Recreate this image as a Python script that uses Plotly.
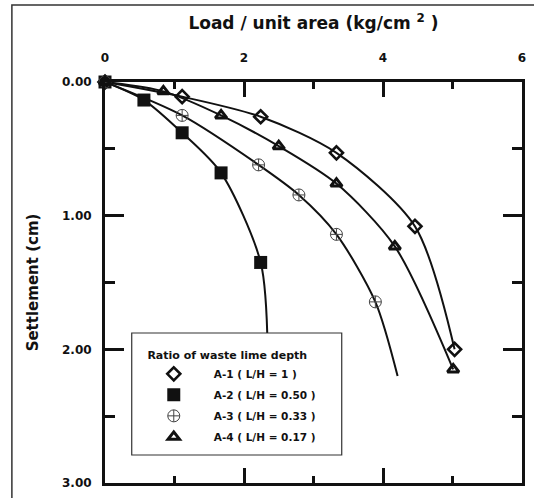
import plotly.graph_objects as go

# ---- data ----
a1_x = [0, 1.11, 2.24, 3.33, 4.46, 5.03]
a1_y = [0, 0.11, 0.26, 0.53, 1.08, 2.00]

a2_x = [0, 0.56, 1.11, 1.67, 2.24]
a2_y = [0, 0.135, 0.38, 0.68, 1.35]
a2_end_x = [2.34]
a2_end_y = [2.00]

a3_x = [0, 1.11, 2.21, 2.79, 3.33, 3.89]
a3_y = [0, 0.25, 0.62, 0.845, 1.14, 1.645]
a3_end_x = [4.21]
a3_end_y = [2.20]

a4_x = [0, 0.84, 1.67, 2.50, 3.33, 4.17, 5.01]
a4_y = [0, 0.07, 0.25, 0.48, 0.76, 1.23, 2.15]

names = ["A-1 ( L/H = 1 )", "A-2 ( L/H = 0.50 )", "A-3 ( L/H = 0.33 )", "A-4 ( L/H = 0.17 )"]
y_ticks = [0, 1, 2, 3]
x_ticks = [0, 2, 4, 6]

FONT = "'DejaVu Sans', Arial, sans-serif"
BLACK = "#111111"

fig = go.Figure()

series = [
    (a1_x, a1_y, [], [], dict(symbol="diamond-open", size=10, color=BLACK, line=dict(width=2.6, color=BLACK))),
    (a2_x, a2_y, a2_end_x, a2_end_y, dict(symbol="square", size=13, color=BLACK, line=dict(width=0))),
    (a3_x, a3_y, a3_end_x, a3_end_y, dict(symbol="circle-cross-open", size=12, color="#444444", line=dict(width=1))),
    (a4_x, a4_y, [], [], dict(symbol="triangle-up-open", size=10, color=BLACK, line=dict(width=3, color=BLACK))),
]

# curves (smooth lines, no legend)
for xs, ys, ex, ey, mk in series:
    fig.add_trace(go.Scatter(
        x=xs + ex, y=ys + ey, mode="lines",
        line=dict(color=BLACK, width=2, shape="spline", smoothing=0.8),
        showlegend=False, hoverinfo="skip"))

# markers (with legend)
for i, (xs, ys, ex, ey, mk) in enumerate(series):
    fig.add_trace(go.Scatter(
        x=xs, y=ys, mode="markers", name=names[i], cliponaxis=False,
        marker=mk, legendgroup=f"g{i}", showlegend=True))

axis_common = dict(
    showline=True, linecolor=BLACK, linewidth=3, mirror="ticks",
    ticks="inside", tickcolor=BLACK, showgrid=False, zeroline=False,
    tickfont=dict(family=FONT, size=12, color=BLACK, weight="bold"),
)

fig.update_xaxes(
    **axis_common, side="top", range=[0, 6], tickvals=x_ticks,
    ticklen=15, tickwidth=3, ticklabelstandoff=12,
    minor=dict(dtick=1, ticks="inside", ticklen=7, tickwidth=2.5, tickcolor=BLACK, showgrid=False),
    title=dict(text="Load / unit area (kg/cm <sup>2</sup> )", standoff=18,
               font=dict(family=FONT, size=17, color=BLACK, weight="bold")),
)
fig.update_yaxes(
    **axis_common, range=[3, 0], tickvals=y_ticks, tickformat=".2f",
    ticklen=19, tickwidth=3, ticklabelstandoff=8,
    minor=dict(dtick=0.5, ticks="inside", ticklen=10, tickwidth=2.5, tickcolor=BLACK, showgrid=False),
    title=dict(text="Settlement (cm)", standoff=20,
               font=dict(family=FONT, size=15, color=BLACK, weight="bold")),
)

fig.update_layout(
    width=534, height=498,
    margin=dict(l=105, r=8, t=82, b=15),
    paper_bgcolor="white", plot_bgcolor="white",
    font=dict(family=FONT, color=BLACK),
    legend=dict(
        x=0.0690, y=0.344, xanchor="left", yanchor="top",
        bgcolor="rgba(0,0,0,0)", borderwidth=0,
        font=dict(family=FONT, size=10.5, color=BLACK, weight="bold"),
        title=dict(text="Ratio of waste lime depth", side="top center",
                   font=dict(family=FONT, size=11, color=BLACK, weight="bold")),
        itemwidth=70, tracegroupgap=2,
    ),
    shapes=[
        # outer frame of the figure
        dict(type="rect", xref="paper", yref="paper",
             x0=-0.2233, x1=1.2, y0=-0.2, y1=1.192,
             line=dict(color="#333333", width=1.5), layer="below"),
        # legend box
        dict(type="rect", xref="paper", yref="paper",
             x0=0.0641, x1=0.5677, y0=0.0698, y1=0.3741,
             fillcolor="white", line=dict(color="#333333", width=1.2), layer="above"),
    ],
)

fig.write_html("out.html")
